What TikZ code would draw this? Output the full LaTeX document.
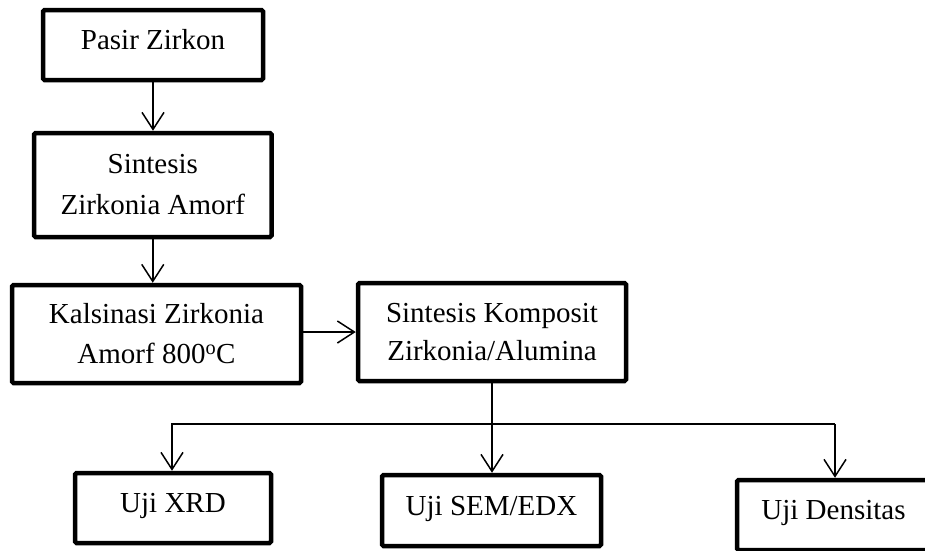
\documentclass[tikz,border=0pt]{standalone}
\usepackage{fontspec}
\setmainfont{Liberation Serif}
\usetikzlibrary{arrows.meta}
\begin{document}
\begin{tikzpicture}[x=1pt,y=-1pt,
  box/.style={draw=black,line width=4.5pt,rounded corners=1.5pt,rectangle,inner sep=0pt,
    font=\fontsize{29}{40}\selectfont,align=center},
  onebox/.style={box,text height=20pt,text depth=11pt},
  conn/.style={draw=black,line width=1.5pt},
  arr/.style={conn,-{Straight Barb[length=17pt,width=22pt,line width=1.5pt]}}]
\useasboundingbox (0,0) rectangle (925,550);
\begin{scope}
\clip (0,0) rectangle (925,550);
\node[onebox,minimum width=220pt,minimum height=70pt] (pasir) at (153,45) {Pasir Zirkon};
\node[box,minimum width=237.5pt,minimum height=104pt] (sint) at (152.75,185) {Sintesis\\[1pt]Zirkonia Amorf};
\node[box,minimum width=289pt,minimum height=98pt] (kals) at (156.5,334) {Kalsinasi Zirkonia\\Amorf 800\textsuperscript{o}C};
\node[box,minimum width=268pt,minimum height=98pt] (komp) at (492,332) {Sintesis Komposit\\[-2pt]Zirkonia/Alumina};
\node[onebox,minimum width=196pt,minimum height=70pt] (xrd) at (173,508) {Uji XRD};
\node[onebox,minimum width=219pt,minimum height=71pt] (sem) at (491.5,510.5) {Uji SEM/EDX};
\node[onebox,minimum width=193pt,minimum height=70pt] (dens) at (833.5,515) {Uji Densitas};
\end{scope}
\coordinate (jl) at (172,424);
\coordinate (jr) at (835,424);
\draw[arr] (pasir.south) -- (pasir.south |- sint.north);
\draw[arr] (sint.south) -- (sint.south |- kals.north);
\draw[arr] (kals.east |- komp.west) -- (komp.west);
\draw[arr] (komp.south) -- (komp.south |- sem.north);
\draw[arr] (jr) -- (jl) -- (jl |- xrd.north);
\draw[arr] (jr) -- (jr |- dens.north);
\end{tikzpicture}
\end{document}
